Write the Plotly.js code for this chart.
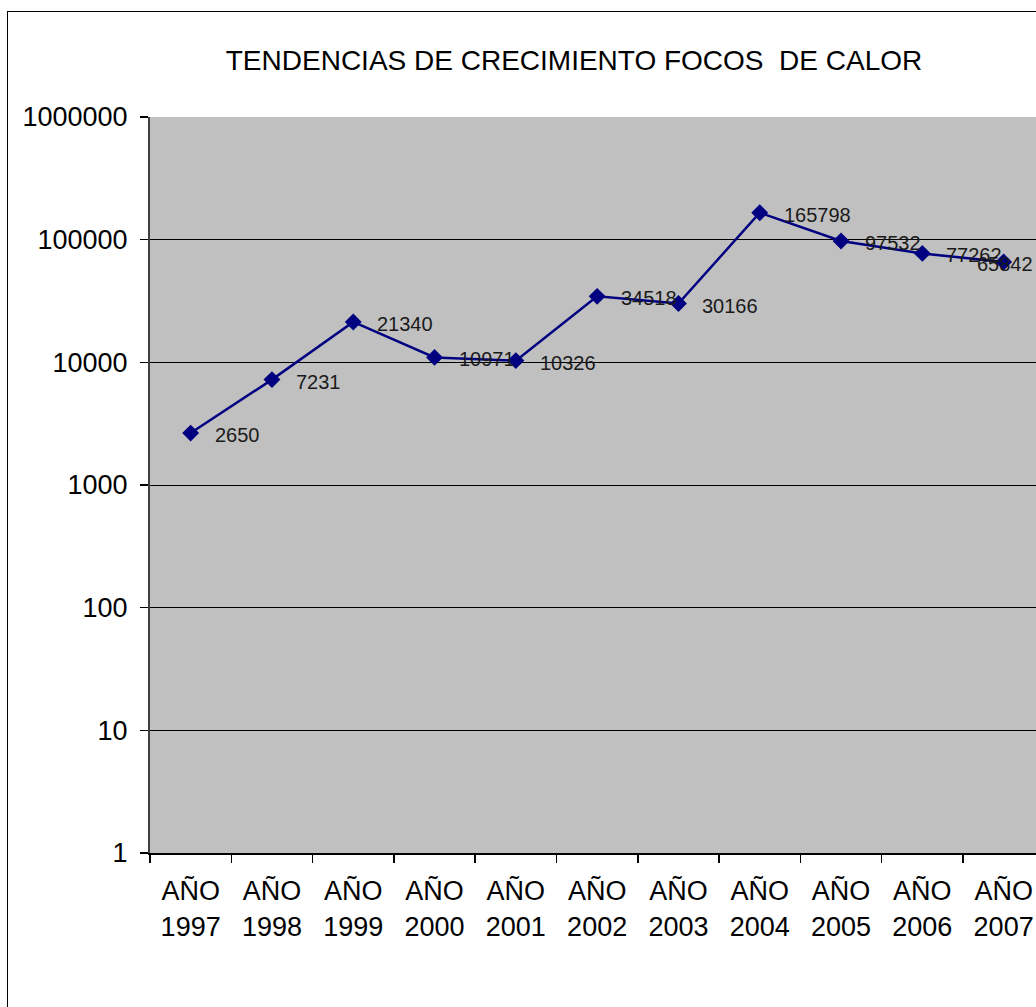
<!DOCTYPE html>
<html>
<head>
<meta charset="utf-8">
<script src="https://cdn.plot.ly/plotly-3.0.1.min.js"></script>
<style>
  html, body { margin: 0; padding: 0; background: #ffffff; }
  #wrap { position: relative; width: 1036px; height: 1007px; overflow: hidden; }
  #frame { position: absolute; left: 7px; top: 11px; width: 1100px; height: 1100px; border: 1px solid #000; box-sizing: border-box; pointer-events: none; }
  #chart { position: absolute; left: 0; top: 0; width: 1036px; height: 1007px; }
</style>
</head>
<body>
<div id="wrap">
  <div id="chart"></div>
  <div id="frame"></div>
</div>
<script>
const categories = ["AÑO<br>1997", "AÑO<br>1998", "AÑO<br>1999", "AÑO<br>2000", "AÑO<br>2001", "AÑO<br>2002", "AÑO<br>2003", "AÑO<br>2004", "AÑO<br>2005", "AÑO<br>2006", "AÑO<br>2007"];
const focos = [2650, 7231, 21340, 10971, 10326, 34518, 30166, 165798, 97532, 77262, 65842];
const yTickVals = [1, 10, 100, 1000, 10000, 100000, 1000000];
const yTickText = ["1", "10", "100", "1000", "10000", "100000", "1000000"];
const chartTitle = "TENDENCIAS DE CRECIMIENTO FOCOS&nbsp; DE CALOR";

const FONT = "Liberation Sans, Arial, sans-serif";

const trace = {
  type: "scatter",
  mode: "lines+markers",
  x: categories,
  y: focos,
  line: { color: "#000080", width: 2.5 },
  marker: { symbol: "diamond", size: 13, color: "#000080" },
  hoverinfo: "x+y",
  cliponaxis: false
};

const lastIdx = categories.length - 1;
const annotations = categories.map((c, i) => ({
  x: c, y: Math.log10(focos[i]), xref: "x", yref: "y",
  text: String(focos[i]), showarrow: false,
  xanchor: i === lastIdx ? "right" : "left", yanchor: "middle",
  xshift: i === lastIdx ? 31 : 22, yshift: -2,
  font: { family: FONT, size: 20, color: "#1a1a1a" }
}));

const layout = {
  width: 1036, height: 1007,
  margin: { l: 150, r: 0, t: 117, b: 154, pad: 0 },
  paper_bgcolor: "#ffffff",
  plot_bgcolor: "#c0c0c0",
  showlegend: false,
  title: {
    text: chartTitle,
    x: 574 / 1036, xanchor: "center", xref: "container",
    y: 1 - 60 / 1007, yanchor: "middle", yref: "container",
    font: { family: FONT, size: 28, color: "#000" }
  },
  xaxis: {
    type: "category",
    range: [-0.5, 10.398],
    tickson: "boundaries",
    ticks: "outside", ticklen: 8, tickcolor: "#000", tickwidth: 1.5,
    showgrid: false, zeroline: false,
    showline: true, linecolor: "#000", linewidth: 2,
    tickfont: { family: FONT, size: 27, color: "#000" },
    ticklabelstandoff: 13
  },
  yaxis: {
    type: "log",
    range: [0, 6],
    tickvals: yTickVals, ticktext: yTickText,
    ticks: "outside", ticklen: 8, tickcolor: "#000", tickwidth: 1.5,
    showgrid: true, gridcolor: "#000", gridwidth: 1,
    zeroline: false,
    showline: true, linecolor: "#404040", linewidth: 2,
    tickfont: { family: FONT, size: 27, color: "#000" },
    ticklabelstandoff: 7
  },
  annotations: annotations
};

Plotly.newPlot("chart", [trace], layout, { displayModeBar: false, staticPlot: true });
</script>
</body>
</html>
